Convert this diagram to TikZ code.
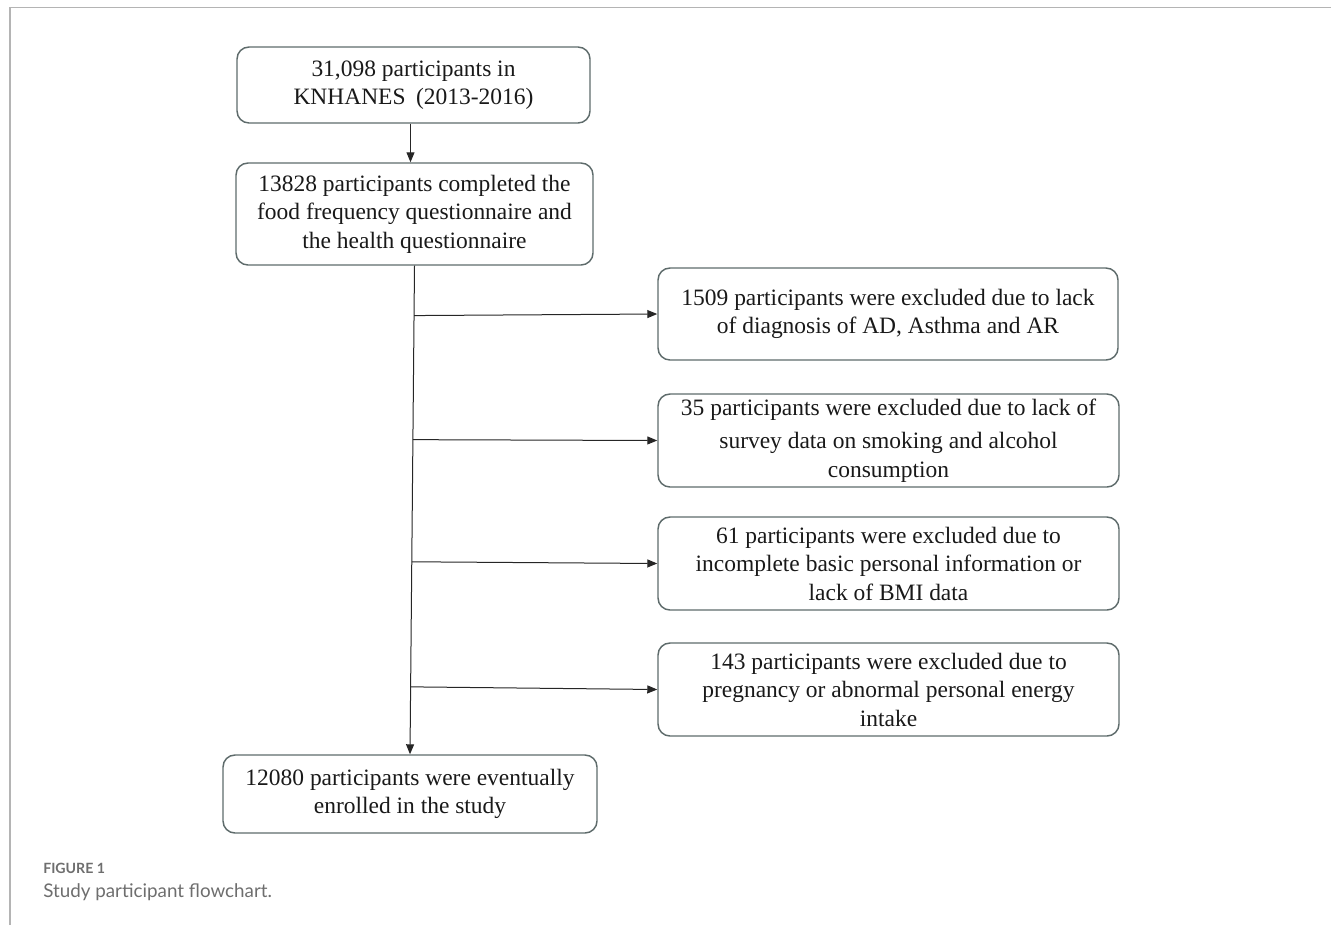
\documentclass[tikz,border=0pt]{standalone}
\usepackage{fontspec}
\setmainfont{Liberation Serif}
\newfontfamily\capfont{Lato}
\usetikzlibrary{arrows.meta,calc}
\definecolor{boxline}{HTML}{5E6B6B}
\definecolor{framegray}{HTML}{B4B4B4}
\definecolor{capgray}{HTML}{6E6E6E}
\begin{document}
\begin{tikzpicture}[x=0.75pt,y=-0.75pt,
  fbox/.style={draw=boxline,line width=1.1pt,rounded corners=9pt,inner sep=0pt,
    align=center,font=\fontsize{17.6}{21.4}\selectfont,text=black!90},
  arr/.style={-{Triangle[length=7.5pt,width=6pt]},line width=0.75pt,draw=black!85}]
\useasboundingbox (0,0) rectangle (1331,925);
\draw[framegray,line width=1.3pt] (10,925) -- (10,7.5) -- (1331,7.5);

\node[fbox,minimum width=353*0.75pt,minimum height=76*0.75pt] (box1) at (413.5,85)
  {31,098 participants in\\ KNHANES\hspace{0.45em}(2013-2016)\hspace{0.45em}};
\node[fbox,minimum width=357*0.75pt,minimum height=102*0.75pt] (box2) at (414.5,214)
  {13828 participants completed the\\ food frequency questionnaire and\\ the health questionnaire};
\node[fbox,minimum width=460*0.75pt,minimum height=92*0.75pt] (box3) at (888,314)
  {1509 participants were excluded due to lack\\ of diagnosis of AD, Asthma and AR};
\node[fbox,minimum width=461*0.75pt,minimum height=93*0.75pt] (box4) at (888.5,440.5)
  {35 participants were excluded due to lack of\\[4pt] survey data on smoking and alcohol\\ consumption};
\node[fbox,minimum width=461*0.75pt,minimum height=93*0.75pt] (box5) at (888.5,563.5)
  {61 participants were excluded due to\\ incomplete basic personal information or\\ lack of BMI data};
\node[fbox,minimum width=461*0.75pt,minimum height=93*0.75pt] (box6) at (888.5,689.5)
  {143 participants were excluded due to\\ pregnancy or abnormal personal energy\\ intake};
\node[fbox,minimum width=374*0.75pt,minimum height=78*0.75pt] (box7) at (410,794)
  {12080 participants were eventually\\ enrolled in the study};

\draw[arr] ($(box1.south)+(-3,0)$) -- ($(box2.north)+(-4,0)$);
\draw[arr] (box2.south) -- (box7.north);
\coordinate (t3) at ($(box2.south)!0.102!(box7.north)$);
\coordinate (t4) at ($(box2.south)!0.356!(box7.north)$);
\coordinate (t5) at ($(box2.south)!0.606!(box7.north)$);
\coordinate (t6) at ($(box2.south)!0.862!(box7.north)$);
\draw[arr] (t3) -- (box3.west);
\draw[arr] (t4) -- (box4.west);
\draw[arr] (t5) -- (box5.west);
\draw[arr] (t6) -- (box6.west);

\node[anchor=base west,inner sep=0pt,text=capgray,font=\capfont\bfseries\fontsize{10.6}{12}\selectfont] (fig) at (43,873) {FIGURE 1};
\node[anchor=base west,inner sep=0pt,text=capgray,font=\capfont\fontsize{14.1}{16}\selectfont] (cap) at (43,897) {Study participant flowchart.};
\end{tikzpicture}
\end{document}
